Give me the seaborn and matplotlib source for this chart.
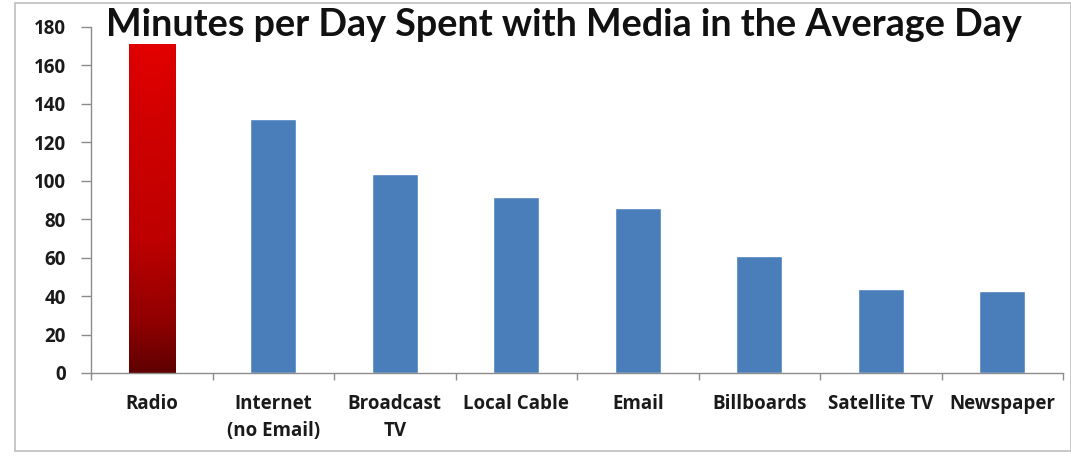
import numpy as np
import pandas as pd
import matplotlib
matplotlib.use("Agg")
import matplotlib.pyplot as plt
import seaborn as sns
from matplotlib.colors import LinearSegmentedColormap
from matplotlib.patches import Rectangle

categories = ["Radio", "Internet\n(no Email)", "Broadcast\nTV", "Local Cable",
              "Email", "Billboards", "Satellite TV", "Newspaper"]
minutes = [171, 132, 103.5, 91.5, 86, 61, 43.5, 42.5]
yticks = [0, 20, 40, 60, 80, 100, 120, 140, 160, 180]
title = "Minutes per Day Spent with Media in the Average Day"

blue = "#4A7EBB"
colors = ["#C00000"] + [blue] * (len(categories) - 1)

sns.set_theme(style="white")
plt.rcParams["font.family"] = ["Lato", "DejaVu Sans"]

fig = plt.figure(figsize=(10.71, 4.57), dpi=100)
ax = fig.add_axes([91 / 1071, 1 - 373 / 457, (1063 - 91) / 1071, (373 - 27) / 457])

df = pd.DataFrame({"cat": categories, "val": minutes})
sns.barplot(data=df, x="cat", y="val", hue="cat", palette=colors, legend=False,
            width=0.38, ax=ax, saturation=1)

# gradient on Radio bar
p = ax.patches[0]
x0, y0 = p.get_x(), p.get_y()
w, h = p.get_width(), p.get_height()
cmap = LinearSegmentedColormap.from_list(
    "rg", [(0, "#600000"), (0.15, "#900000"), (0.4, "#BE0000"), (0.75, "#D00000"), (1, "#E40000")])
grad = np.linspace(0, 1, 256).reshape(-1, 1)
hgrad = np.tile(grad, (1, 20))
edge = 1 - 0.08 * np.abs(np.linspace(-1, 1, 20)) ** 2
img = ax.imshow(hgrad * edge, extent=[x0, x0 + w, y0, y0 + h], origin="lower",
                cmap=cmap, aspect="auto", zorder=p.get_zorder() + 0.1, vmin=0, vmax=1)
img.set_clip_path(p)

ax.set_xlim(-0.5, len(categories) - 0.5)
ax.set_ylim(0, 180)
ax.set_xlabel("")
ax.set_ylabel("")

for s in ["top", "right"]:
    ax.spines[s].set_visible(False)
for s in ["left", "bottom"]:
    ax.spines[s].set_color("#8C8C8C")
    ax.spines[s].set_linewidth(1.0)

lab_font = dict(family=["Open Sans", "DejaVu Sans"], fontweight="bold", fontsize=13.5,
                color="#1A1A1A")
ax.set_yticks(yticks)
ax.set_yticklabels([str(v) for v in yticks], **lab_font)
ax.tick_params(axis="y", which="major", left=True, length=7, width=1, color="#8C8C8C", pad=11)

ax.set_xticks(np.arange(len(categories)))
ax.set_xticklabels(categories, linespacing=1.45, va="top", **lab_font)
ax.set_xticks(np.arange(-0.5, len(categories)), minor=True)
ax.tick_params(axis="x", which="major", bottom=False, length=0, pad=15)
ax.tick_params(axis="x", which="minor", bottom=True, length=5, width=1, color="#8C8C8C")

fig.text(564 / 1071, 1 - 25 / 457, title, ha="center", va="center",
         fontsize=27.2, fontweight="bold", color="#111111")

fig.patches.append(Rectangle((15 / 1071, 1 - 451 / 457), (1071 - 15) / 1071, (451 - 3) / 457,
                             transform=fig.transFigure, fill=False, edgecolor="#BFBFBF",
                             linewidth=1.2))

fig.savefig("out.png", dpi=100)
